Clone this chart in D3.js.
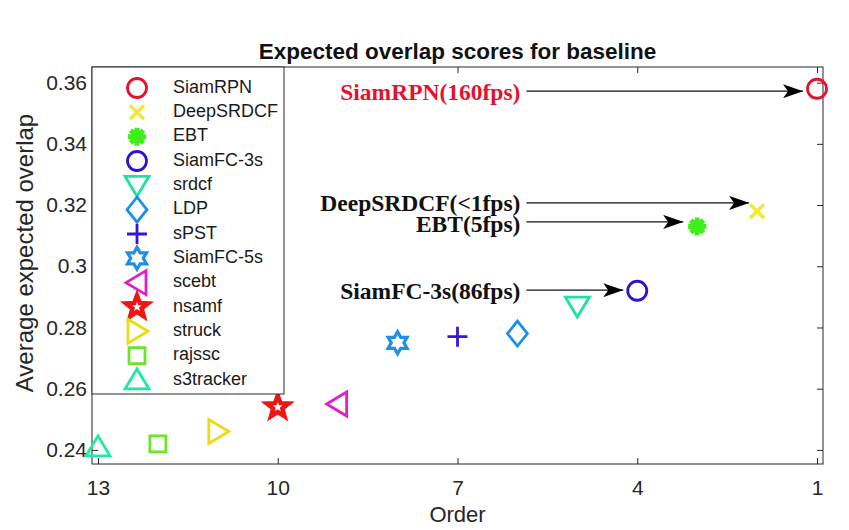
<!DOCTYPE html>
<html lang="en">
<head>
    <meta charset="utf-8">
    <title>Expected overlap scores for baseline</title>
    <style>
        body{ margin:0; background:#fff; font-family: "Liberation Sans", Arial, sans-serif;}
    </style>
    <script type="text/javascript" src="https://d3js.org/d3.v7.min.js"></script>
</head>
<body>
    <div class="chart"></div>

    <script type="text/javascript">
        // DATA ------------------------------------
        const trackers = ["SiamRPN","DeepSRDCF","EBT","SiamFC-3s","srdcf","LDP","sPST",
                          "SiamFC-5s","scebt","nsamf","struck","rajssc","s3tracker"];
        const orders = [1,2,3,4,5,6,7,8,9,10,11,12,13];
        const eao = [0.358,0.318,0.313,0.292,0.287,0.278,0.277,0.275,0.255,0.254,0.246,0.242,0.241];
        const xTicks = [13,10,7,4,1];
        const yTicks = [0.24,0.26,0.28,0.30,0.32,0.34,0.36];

        // annotations: tracker, label, y of the arrow
        const noteTracker = ["SiamRPN","DeepSRDCF","EBT","SiamFC-3s"];
        const noteLabel = ["SiamRPN(160fps)","DeepSRDCF(<1fps)","EBT(5fps)","SiamFC-3s(86fps)"];
        const noteY = [0.3572,0.3207,0.3145,0.2922];

        // styles (matlab-like markers)
        const markers = ["o","x","*","o","v","d","+","h","<","p",">","s","^"];
        const colors = ["#e3122f","#f2e83a","#3df01c","#2b14cc","#1fe39a","#1d8fe8","#3815d6",
                        "#1e8ee6","#e01fc4","#f01414","#ecdc12","#6ee22c","#1eeb9e"];

        // CHART -----------------------------------
        const W = 849, H = 530;
        const box = {left: 92, right: 823, top: 67, bottom: 464};

        const svg = d3.select(".chart").append("svg")
            .attr("width", W).attr("height", H);

        const x = d3.scaleLinear().domain([13.1, 0.9]).range([box.left, box.right]);
        const y = d3.scaleLinear().domain([0.2354, 0.3651]).range([box.bottom, box.top]);

        const axisColor = "#262626";

        // axes
        const gx = svg.append("g").attr("transform", `translate(0,${box.bottom})`)
            .call(d3.axisBottom(x).tickValues(xTicks).tickFormat(d3.format("d"))
                .tickSizeInner(-6).tickSizeOuter(0).tickPadding(16));
        const gy = svg.append("g").attr("transform", `translate(${box.left},0)`)
            .call(d3.axisLeft(y).tickValues(yTicks).tickFormat(d => d3.format("")(+d.toFixed(2)))
                .tickSizeInner(-6).tickSizeOuter(0).tickPadding(5));
        const gx2 = svg.append("g").attr("transform", `translate(0,${box.top})`)
            .call(d3.axisTop(x).tickValues(xTicks).tickFormat("").tickSizeInner(-6).tickSizeOuter(0));
        const gy2 = svg.append("g").attr("transform", `translate(${box.right},0)`)
            .call(d3.axisRight(y).tickValues(yTicks).tickFormat("").tickSizeInner(-6).tickSizeOuter(0));

        [gx, gy, gx2, gy2].forEach(g => {
            g.select(".domain").remove();
            g.selectAll("line").attr("stroke", axisColor);
            g.selectAll("text").attr("fill", axisColor)
                .attr("font-family", "Liberation Sans, Arial, sans-serif")
                .attr("font-size", 21);
        });

        svg.append("rect")
            .attr("x", box.left).attr("y", box.top)
            .attr("width", box.right - box.left).attr("height", box.bottom - box.top)
            .attr("fill", "none").attr("stroke", axisColor).attr("stroke-width", 1);

        // labels
        svg.append("text")
            .attr("x", (box.left + box.right) / 2).attr("y", 53)
            .attr("text-anchor", "middle").attr("dominant-baseline", "middle")
            .attr("font-weight", "bold").attr("font-size", 22.5).attr("fill", "#111")
            .text("Expected overlap scores for baseline");
        svg.append("text")
            .attr("x", (box.left + box.right) / 2).attr("y", 516)
            .attr("text-anchor", "middle").attr("dominant-baseline", "middle")
            .attr("font-size", 22).attr("fill", axisColor)
            .text("Order");
        svg.append("text")
            .attr("transform", "translate(27,253) rotate(-90)")
            .attr("text-anchor", "middle").attr("dominant-baseline", "middle")
            .attr("font-size", 24).attr("fill", axisColor)
            .text("Average expected overlap");

        // marker shapes
        function markerPath(m) {
            const p = d3.path();
            if (m == "o") { p.arc(0, 0, 9.5, 0, 2 * Math.PI); p.closePath(); }
            else if (m == "x") { const r = 7; p.moveTo(-r,-r); p.lineTo(r,r); p.moveTo(-r,r); p.lineTo(r,-r); }
            else if (m == "+") { const r = 10; p.moveTo(-r,0); p.lineTo(r,0); p.moveTo(0,-r); p.lineTo(0,r); }
            else if (m == "*") {
                const r = 9;
                for (let i = 0; i < 4; i++) {
                    const a = i * Math.PI / 4;
                    p.moveTo(-r*Math.cos(a), -r*Math.sin(a)); p.lineTo(r*Math.cos(a), r*Math.sin(a));
                }
            }
            else if (m == "v") { p.moveTo(-12,-9); p.lineTo(12,-9); p.lineTo(0,11); p.closePath(); }
            else if (m == "^") { p.moveTo(-12,9); p.lineTo(12,9); p.lineTo(0,-11); p.closePath(); }
            else if (m == "<") { p.moveTo(-11,0); p.lineTo(9,-12); p.lineTo(9,12); p.closePath(); }
            else if (m == ">") { p.moveTo(11,0); p.lineTo(-9,-12); p.lineTo(-9,12); p.closePath(); }
            else if (m == "d") { p.moveTo(0,-12.5); p.lineTo(10,0); p.lineTo(0,12.5); p.lineTo(-10,0); p.closePath(); }
            else if (m == "s") { p.rect(-8, -8, 16, 16); }
            else if (m == "p" || m == "h") {
                const n = m == "p" ? 5 : 6, ro = m == "p" ? 11.5 : 11, ri = m == "p" ? 4.8 : 6.3;
                for (let i = 0; i < 2 * n; i++) {
                    const a = -Math.PI / 2 + i * Math.PI / n, r = i % 2 ? ri : ro;
                    if (i == 0) p.moveTo(r*Math.cos(a), r*Math.sin(a)); else p.lineTo(r*Math.cos(a), r*Math.sin(a));
                }
                p.closePath();
            }
            return p.toString();
        }
        function markerWidth(m) {
            return m == "*" ? 5 : (m == "x" ? 3.5 : (m == "p" ? 4.5 : (m == "h" ? 3.2 : 2.8)));
        }

        // points
        svg.append("g").selectAll("path")
            .data(trackers)
            .join("path")
            .attr("transform", (d, i) => `translate(${x(orders[i])},${y(eao[i])})`)
            .attr("d", (d, i) => markerPath(markers[i]))
            .attr("fill", "none")
            .attr("stroke", (d, i) => colors[i])
            .attr("stroke-width", (d, i) => markerWidth(markers[i]))
            .attr("stroke-linejoin", "miter");

        // annotations with arrows
        const defs = svg.append("defs");
        defs.append("marker")
            .attr("id", "head").attr("viewBox", "0 0 20 14")
            .attr("refX", 20).attr("refY", 7)
            .attr("markerWidth", 20).attr("markerHeight", 14)
            .attr("markerUnits", "userSpaceOnUse").attr("orient", "auto")
            .append("path").attr("d", "M0,0 L20,7 L0,14 L5,7 Z").attr("fill", "#000");

        const textEnd = 5.95, arrowStart = 5.85;
        noteTracker.forEach((t, k) => {
            const i = trackers.indexOf(t);
            const gap = markers[i] == "x" ? 8 : 14;
            svg.append("line")
                .attr("x1", x(arrowStart)).attr("y1", y(noteY[k]))
                .attr("x2", x(orders[i]) - gap).attr("y2", y(noteY[k]))
                .attr("stroke", "#111").attr("stroke-width", 1.3)
                .attr("marker-end", "url(#head)");
            svg.append("text")
                .attr("x", x(textEnd)).attr("y", y(noteY[k]) + (t == "EBT" ? 5 : 3))
                .attr("text-anchor", "end").attr("dominant-baseline", "middle")
                .attr("font-family", "Liberation Serif, 'Times New Roman', serif")
                .attr("font-weight", "bold").attr("font-size", 23.5)
                .attr("fill", k == 0 ? "#e3122f" : "#111")
                .text(noteLabel[k]);
        });

        // legend
        const lg = svg.append("g");
        lg.append("rect")
            .attr("x", box.left).attr("y", box.top).attr("width", 192).attr("height", 327)
            .attr("fill", "#fff").attr("stroke", axisColor).attr("stroke-width", 1);
        const items = lg.selectAll("g.item").data(trackers).join("g")
            .attr("class", "item")
            .attr("transform", (d, i) => `translate(${box.left + 45},${88 + i * 24.33})`);
        items.append("path")
            .attr("d", (d, i) => markerPath(markers[i]))
            .attr("fill", "none")
            .attr("stroke", (d, i) => colors[i])
            .attr("stroke-width", (d, i) => markerWidth(markers[i]));
        items.append("text")
            .attr("x", 36).attr("dominant-baseline", "middle")
            .attr("font-size", 18).attr("fill", "#1a1a1a")
            .text(d => d);
    </script>
</body>
</html>
